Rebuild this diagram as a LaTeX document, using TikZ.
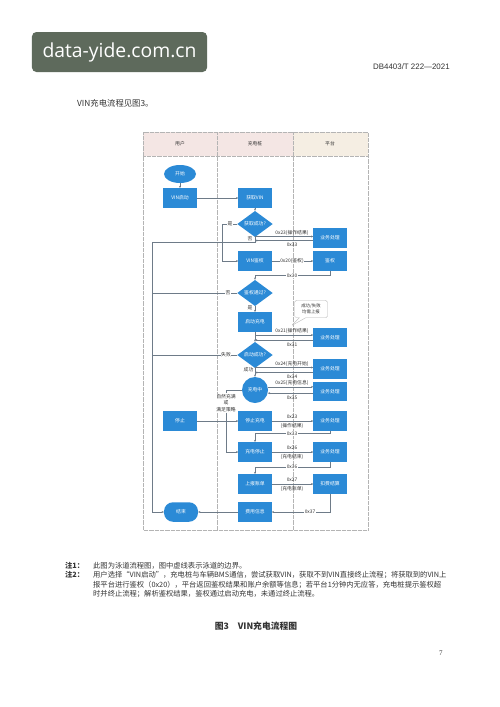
\documentclass[tikz,border=0pt]{standalone}
\usepackage{fontspec}
\setmainfont{Liberation Serif}
\setsansfont{Liberation Sans}
\newfontfamily\cjk{Noto Sans CJK SC}
\newfontfamily\wmfont{Open Sans}
\usetikzlibrary{arrows.meta,positioning,calc,shapes.geometric,shapes.callouts}
\definecolor{flowblue}{HTML}{2B8AD6}
\definecolor{laneline}{HTML}{B4B4B4}
\definecolor{headpink}{HTML}{F4E6E4}
\definecolor{headbeige}{HTML}{F5EEE3}
\definecolor{wiregray}{HTML}{6E7B88}
\definecolor{wmgray}{HTML}{5E6A5C}
\definecolor{inkgray}{HTML}{333333}

\begin{document}
\begin{tikzpicture}[
    x=0.04cm, y=-0.04cm,
    box/.style={fill=flowblue, minimum width=1.32cm, minimum height=0.78cm, inner sep=0pt, align=center, font=\cjk\fontsize{5.5}{7}\selectfont, text=white},
    gate/.style={diamond, fill=flowblue, minimum width=1.42cm, minimum height=0.9cm, inner sep=0pt, font=\cjk\fontsize{5.5}{7}\selectfont, text=white},
    tag/.style={font=\cjk\fontsize{5.5}{7.5}\selectfont, text=inkgray, inner sep=0.6pt, align=center},
    lanehead/.style={font=\cjk\fontsize{5.5}{7}\selectfont, text=inkgray},
    lanerule/.style={draw=laneline, densely dotted, line width=0.4pt},
    link/.style={draw=wiregray, line width=0.4pt},
    flow/.style={link, -{Stealth[length=2.6pt,width=2.2pt]}},
    notefont/.style={font=\cjk\fontsize{8.3}{10}\selectfont, text=inkgray, inner sep=0pt},
]
\fill[white] (0,0) rectangle (500,707);
\useasboundingbox (0,0) rectangle (500,707);

\node[fill=wmgray, rounded corners=5pt, minimum width=7cm, minimum height=1.6cm, text=white, font=\wmfont\fontsize{22}{26}\selectfont] (mark) at (119.5,52) {data-yide.com.cn};
\node[anchor=west, inner sep=0pt, font=\sffamily\fontsize{9}{11}\selectfont, text=inkgray] (docno) at (373,67) {DB4403/T 222—2021};
\node[anchor=west, inner sep=0pt, font=\cjk\fontsize{9.5}{11}\selectfont, text=inkgray] (intro) at (77,103) {VIN充电流程见图3。};

\fill[headpink] (143,132) rectangle (293,156);
\fill[headbeige] (293,132) rectangle (368,156);
\draw[lanerule] (143,132) rectangle (368,530);
\draw[lanerule] (143,156) -- (368,156);
\foreach \x in {217,293}
    \draw[lanerule] (\x,132) -- (\x,530);
\node[lanehead] (hduser) at (180,144) {用户};
\node[lanehead] (hdpile) at (255,144) {充电桩};
\node[lanehead] (hdplat) at (330,144) {平台};

\node[ellipse, fill=flowblue, minimum width=1.28cm, minimum height=0.72cm, inner sep=0pt, font=\cjk\fontsize{5.5}{7}\selectfont, text=white] (begin) at (180,174) {开始};
\node[box] (vinstart) at (180,198) {VIN启动};
\node[box] (getvin) at (255,198) {获取VIN};
\node[gate] (getok) at (255,224) {获取成功?};
\node[box] (biz1) at (330,238) {业务处理};
\node[box] (vinauth) at (255,261) {VIN鉴权};
\node[box] (auth) at (330,261) {鉴权};
\node[gate] (authok) at (255,293) {鉴权通过?};
\node[box] (startchg) at (255,322) {启动充电};
\coordinate (memotip) at (291,326);
\node[rectangle callout, draw=laneline, fill=white, rounded corners=2pt, minimum width=1.32cm, minimum height=0.7cm, inner sep=0.5pt, align=center, font=\cjk\fontsize{5}{6.5}\selectfont, text=inkgray, callout absolute pointer={(memotip)}] (memo) at (311,309) {成功/失败\\均需上报};
\node[box] (biz2) at (330,337.5) {业务处理};
\node[gate] (startok) at (255,355) {启动成功?};
\node[box] (biz3) at (330,369) {业务处理};
\node[circle, fill=flowblue, minimum size=1.04cm, inner sep=0pt, font=\cjk\fontsize{5.5}{7}\selectfont, text=white] (charging) at (255,390) {充电中};
\node[box] (biz4) at (330,391.5) {业务处理};
\node[box] (stop) at (180,421) {停止};
\node[box] (stopchg) at (255,421) {停止充电};
\node[box] (biz5) at (330,421) {业务处理};
\node[box] (chgstop) at (255,452) {充电停止};
\node[box] (biz6) at (330,452) {业务处理};
\node[box] (bill) at (255,484) {上报账单};
\node[box] (settle) at (330,484) {扣费结算};
\node[box] (fee) at (255,512) {费用信息};
\node[fill=flowblue, rounded corners=0.36cm, minimum width=1.36cm, minimum height=0.78cm, inner sep=0pt, font=\cjk\fontsize{5.5}{7}\selectfont, text=white] (finish) at (181,512) {结束};
\node[tag, fill=white] (cond) at (226,403) {自然充满\\或\\满足策略};

\coordinate (rail) at (152,242);
\coordinate (m1) at (255,236.5);
\coordinate (r1) at (255,240.5);
\coordinate (m2) at (255,335);
\coordinate (r2) at (255,340);
\coordinate (m3) at (255,367.5);
\coordinate (r3) at (255,372.5);

\draw[flow] (begin) -- (vinstart);
\draw[flow] (vinstart) -- (getvin);
\draw[flow] (getvin) -- (getok);
\draw[flow] (getok.west) -- ++(-14.5,0) |- (vinauth.west);
\draw[flow] (getok.south) |- (rail) |- (finish.west);
\draw[flow] (m1) -- (m1 -| biz1.west);
\draw[flow] (r1 -| biz1.west) -- (r1);
\draw[flow] (vinauth) -- (auth);
\draw[flow] (auth.south) -- ++(0,4.5) -| (authok.north);
\draw[link] (authok.west) -- (authok.west -| rail);
\draw[flow] (authok) -- (startchg);
\draw[flow] (startchg) -- (startok);
\draw[flow] (m2) -- (m2 -| biz2.west);
\draw[flow] (r2 -| biz2.west) -- (r2);
\draw[link] (startok.west) -- (startok.west -| rail);
\draw[flow] (startok) -- (charging);
\draw[flow] (m3) -- (m3 -| biz3.west);
\draw[flow] (r3 -| biz3.west) -- (r3);
\draw[flow] (charging.14) -- (charging.14 -| biz4.west);
\draw[flow] (charging.-14 -| biz4.west) -- (charging.-14);
\draw[link] (charging.west) -| (cond.north);
\draw[flow] (cond.south) |- (chgstop.west);
\draw[flow] (stop) -- (stopchg);
\draw[flow] (stopchg) -- (biz5);
\draw[flow] (biz5.south) -- ++(0,2.5) -| (chgstop.north);
\draw[flow] (chgstop) -- (biz6);
\draw[flow] (biz6.south) -- ++(0,5) -| (bill.north);
\draw[flow] (bill) -- (settle);
\draw[flow] (settle.south) |- (fee.east);
\draw[flow] (fee) -- (finish);

\node[tag, fill=white] (yes1) at (230,224) {是};
\node[tag] (no1) at (250,239) {否};
\node[tag] (msg23a) at (292,232.5) {0x23(操作结果)};
\node[tag] (msg33a) at (292,245) {0x33};
\node[tag, fill=white] (msg20) at (292,261) {0x20(鉴权)};
\node[tag, fill=white] (msg30) at (292,275.5) {0x30};
\node[tag, fill=white] (no2) at (228,293) {否};
\node[tag] (yes2) at (250,307.5) {是};
\node[tag] (msg21) at (292,331) {0x21(操作结果)};
\node[tag] (msg31) at (292,344.5) {0x31};
\node[tag, fill=white] (fail) at (226,355) {失败};
\node[tag] (okay) at (248.5,370) {成功};
\node[tag] (msg24) at (292,363.5) {0x24(充电开始)};
\node[tag] (msg34) at (292,377) {0x34};
\node[tag] (msg25) at (292,383) {0x25(充电信息)};
\node[tag] (msg35) at (292,398) {0x35};
\node[tag] (msg23b) at (292,417) {0x23};
\node[tag] (res23b) at (292,425.5) {(操作结果)};
\node[tag, fill=white] (msg33b) at (292,433.5) {0x33};
\node[tag] (msg26) at (292,448) {0x26};
\node[tag] (res26) at (292,456.5) {(充电结束)};
\node[tag, fill=white] (msg36) at (292,467) {0x36};
\node[tag] (msg27) at (292,480) {0x27};
\node[tag] (res27) at (292,488.5) {(充电账单)};
\node[tag, fill=white] (msg37) at (310,512) {0x37};

\node[notefont, anchor=west] (n1head) at (65,565.5) {\bfseries 注1：};
\node[notefont, anchor=west] (n1body) at (93,565.5) {此图为泳道流程图，图中虚线表示泳道的边界。};
\node[notefont, anchor=west] (n2head) at (65,574.5) {\bfseries 注2：};
\node[notefont, anchor=west] (n2lineA) at (93,574.5) {用户选择“VIN启动”，充电桩与车辆BMS通信，尝试获取VIN，获取不到VIN直接终止流程；将获取到的VIN上};
\node[notefont, anchor=west] (n2lineB) at (93,584.5) {报平台进行鉴权（0x20），平台返回鉴权结果和账户余额等信息；若平台1分钟内无应答，充电桩提示鉴权超};
\node[notefont, anchor=west] (n2lineC) at (93,594) {时并终止流程；解析鉴权结果，鉴权通过启动充电，未通过终止流程。};
\node[font=\cjk\bfseries\fontsize{10}{12}\selectfont, text=inkgray] (caption) at (256,626) {图3\quad VIN充电流程图};
\node[font=\fontsize{8}{10}\selectfont, text=inkgray] (pageno) at (441,653) {7};
\end{tikzpicture}
\end{document}
